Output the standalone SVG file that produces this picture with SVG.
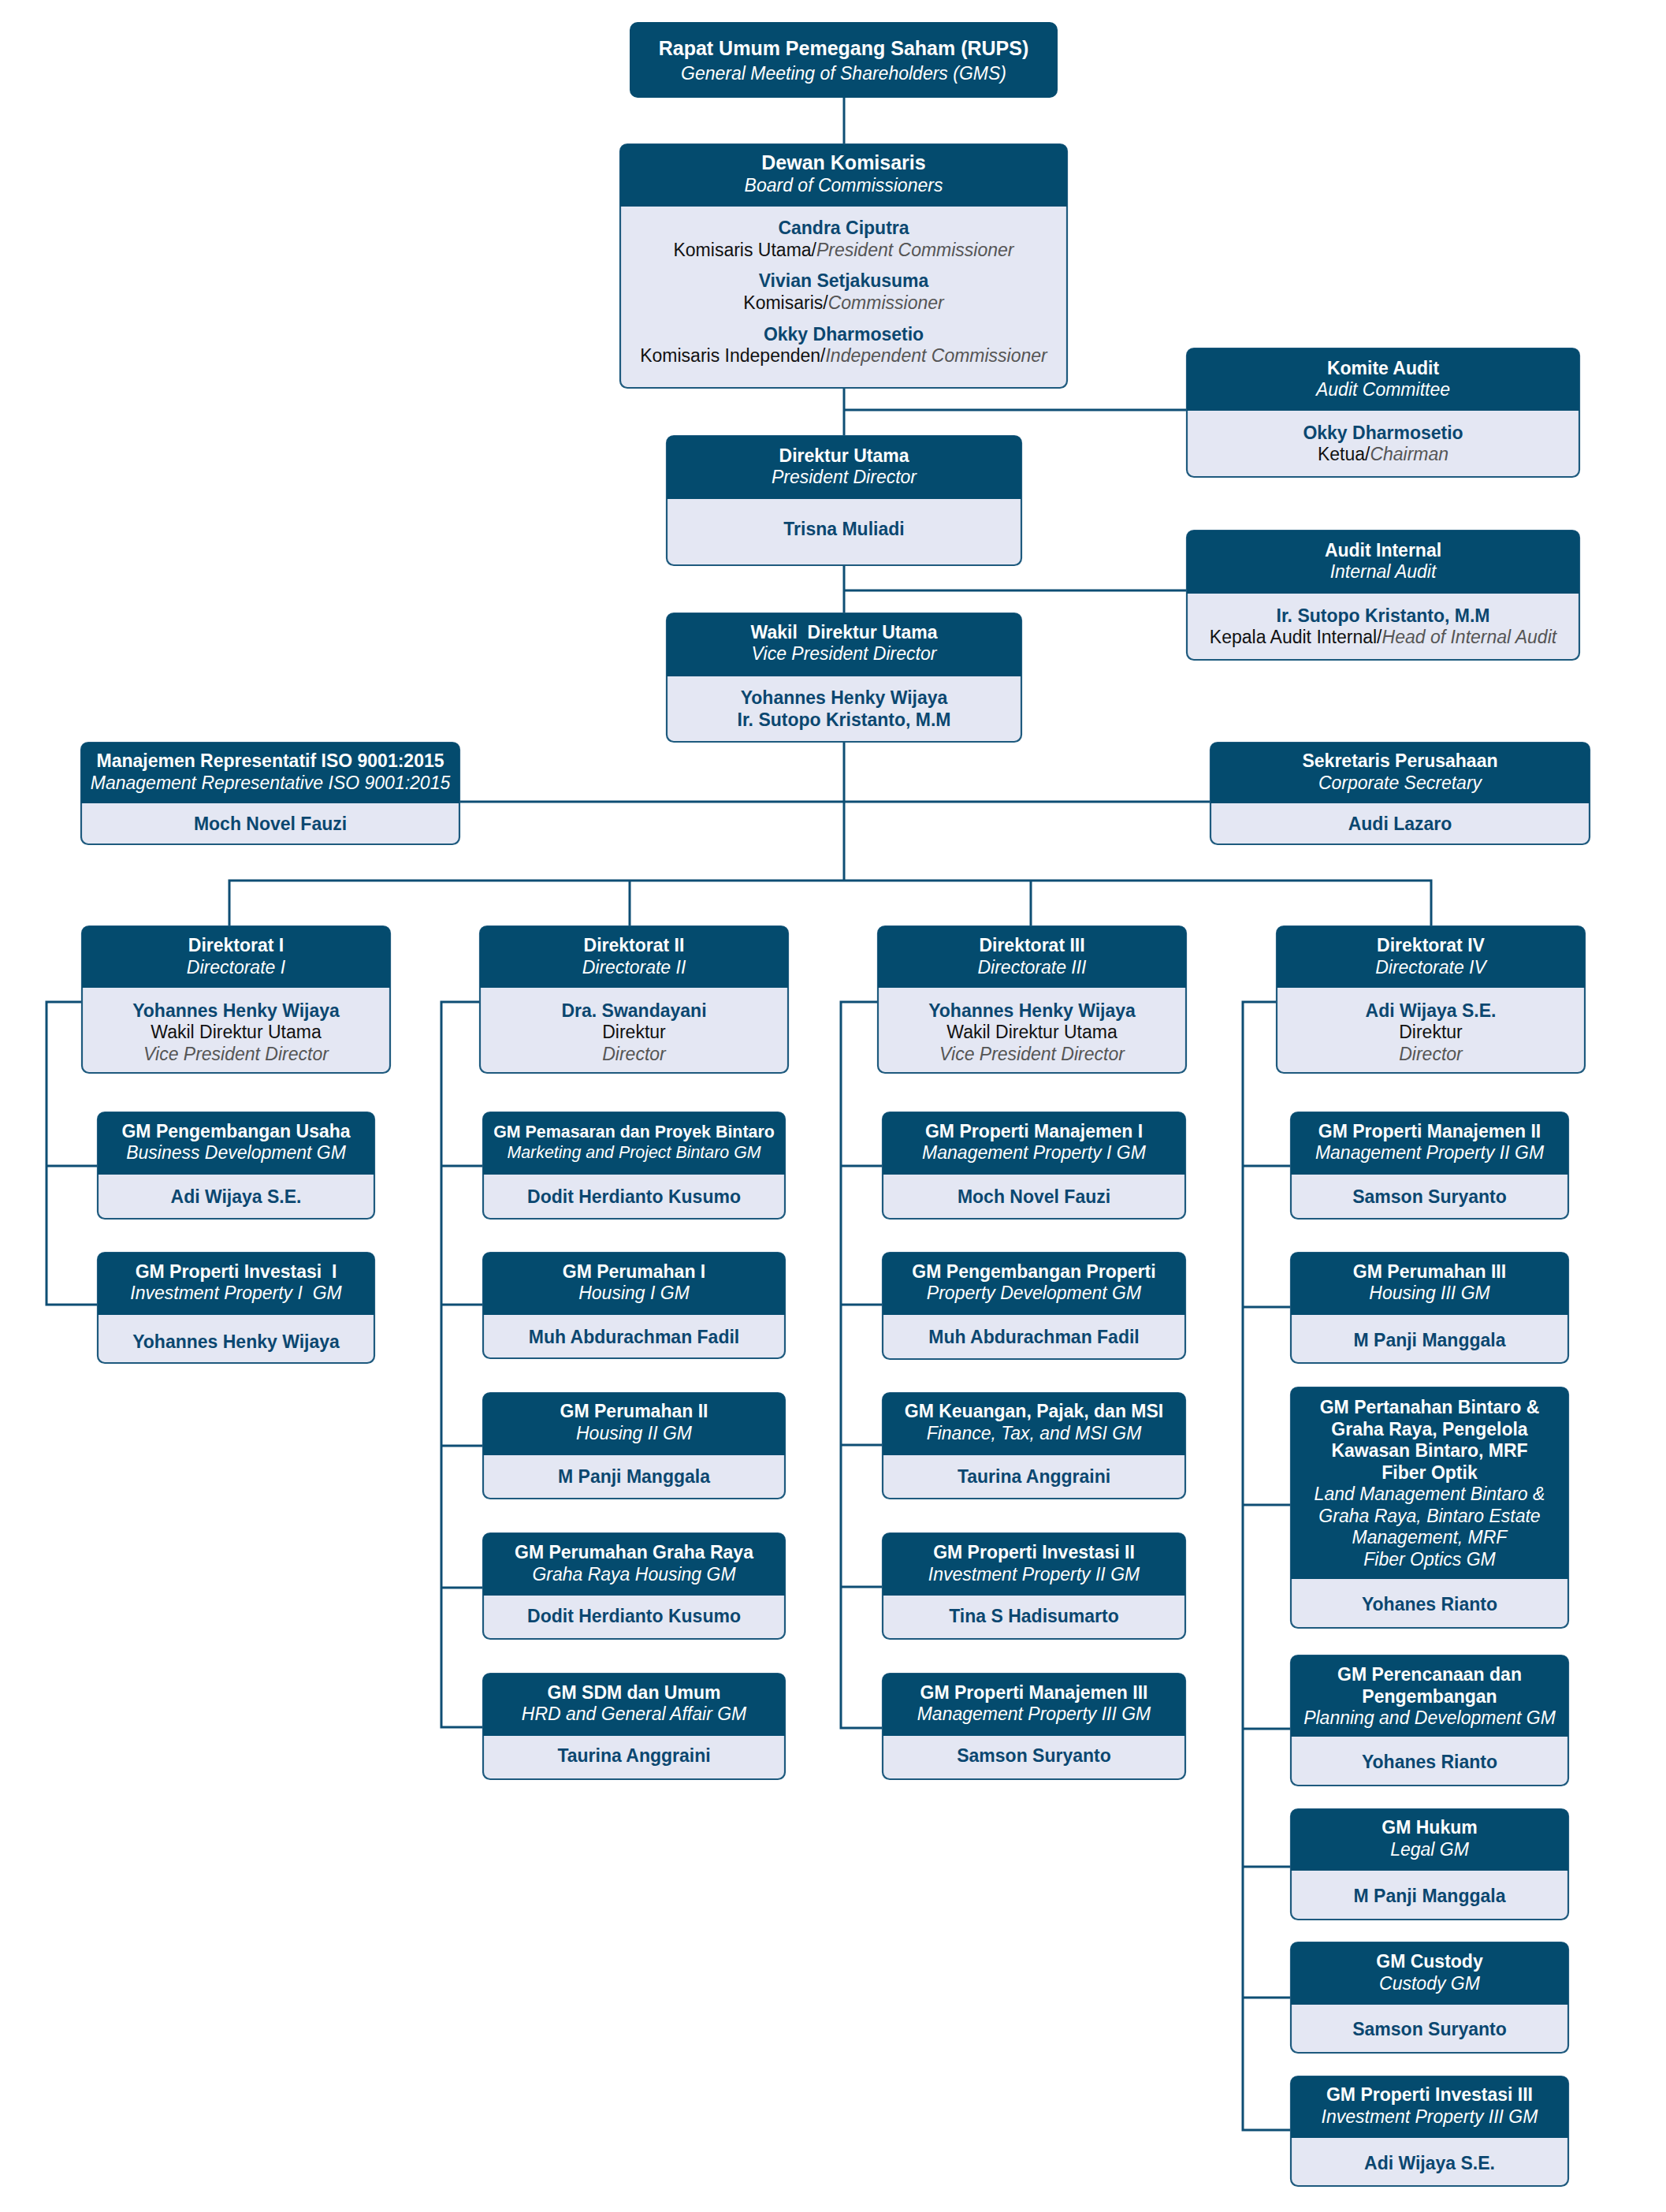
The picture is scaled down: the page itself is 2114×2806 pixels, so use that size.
<svg xmlns="http://www.w3.org/2000/svg" width="2114" height="2806" viewBox="0 0 2114 2806">
<style>
.bg{fill:#ffffff}
.bx{fill:#E4E7F3;stroke:#1E5A7E;stroke-width:2.2}
.hd{fill:#044B6E}
.cn{fill:none;stroke:#0E4E74;stroke-width:3}
text{font-family:"Liberation Sans",Arial,sans-serif;text-anchor:middle;font-size:23px}
.tb{font-weight:bold;fill:#ffffff}
.ti{font-style:italic;fill:#ffffff}
.big{font-size:25px}
.sm{font-size:21.4px}
.nm{font-weight:bold;fill:#0B4770}
.rl{fill:#111111}
.ri{font-style:italic;fill:#555555}
</style>
<rect class="bg" x="0" y="0" width="2114" height="2806"/>

<g id="connectors">
<path class="cn" d="M1071,124V183"/>
<path class="cn" d="M1071,492V553"/>
<path class="cn" d="M1071,520H1506"/>
<path class="cn" d="M1071,717V778"/>
<path class="cn" d="M1071,749H1506"/>
<path class="cn" d="M1071,941V1117"/>
<path class="cn" d="M583,1017H1536"/>
<path class="cn" d="M291,1175V1117H1816V1175"/>
<path class="cn" d="M799,1117V1175"/>
<path class="cn" d="M1308,1117V1175"/>
<path class="cn" d="M104,1271H59V1655H124"/>
<path class="cn" d="M59,1479H124"/>
<path class="cn" d="M609,1271H560V2191H613"/>
<path class="cn" d="M560,1479H613M560,1655H613M560,1834H613M560,2014H613"/>
<path class="cn" d="M1114,1271H1067V2192H1120"/>
<path class="cn" d="M1067,1479H1120M1067,1655H1120M1067,1833H1120M1067,2013H1120"/>
<path class="cn" d="M1620,1271H1577V2702H1638"/>
<path class="cn" d="M1577,1479H1638M1577,1658H1638M1577,1909H1638M1577,2193H1638M1577,2368H1638M1577,2534H1638"/>
</g>

<g id="rups">
<rect class="hd" x="799" y="28" width="543" height="96" rx="10"/>
<text class="tb big" x="1070.5" y="70">Rapat Umum Pemegang Saham (RUPS)</text>
<text class="ti" x="1070.5" y="101">General Meeting of Shareholders (GMS)</text>
</g>

<g id="dewan-komisaris">
<rect class="bx" x="787" y="183" width="567" height="309" rx="9"/>
<path class="hd" d="M787,262V192Q787,183 796,183H1345Q1354,183 1354,192V262Z"/>
<text class="tb big" x="1070.5" y="215">Dewan Komisaris</text>
<text class="ti" x="1070.5" y="243">Board of Commissioners</text>
<text class="nm" x="1070.5" y="297">Candra Ciputra</text>
<text class="rl" x="1070.5" y="325">Komisaris Utama/<tspan class="ri">President Commissioner</tspan></text>
<text class="nm" x="1070.5" y="364">Vivian Setjakusuma</text>
<text class="rl" x="1070.5" y="392">Komisaris/<tspan class="ri">Commissioner</tspan></text>
<text class="nm" x="1070.5" y="432">Okky Dharmosetio</text>
<text class="rl" x="1070.5" y="459">Komisaris Independen/<tspan class="ri">Independent Commissioner</tspan></text>
</g>

<g id="komite-audit">
<rect class="bx" x="1506" y="442" width="498" height="163" rx="9"/>
<path class="hd" d="M1506,521V451Q1506,442 1515,442H1995Q2004,442 2004,451V521Z"/>
<text class="tb" x="1755" y="475">Komite Audit</text>
<text class="ti" x="1755" y="502">Audit Committee</text>
<text class="nm" x="1755" y="557">Okky Dharmosetio</text>
<text class="rl" x="1755" y="584">Ketua/<tspan class="ri">Chairman</tspan></text>
</g>

<g id="direktur-utama">
<rect class="bx" x="846" y="553" width="450" height="164" rx="9"/>
<path class="hd" d="M846,633V562Q846,553 855,553H1287Q1296,553 1296,562V633Z"/>
<text class="tb" x="1071" y="586">Direktur Utama</text>
<text class="ti" x="1071" y="613">President Director</text>
<text class="nm" x="1071" y="679">Trisna Muliadi</text>
</g>

<g id="audit-internal">
<rect class="bx" x="1506" y="673" width="498" height="164" rx="9"/>
<path class="hd" d="M1506,753V682Q1506,673 1515,673H1995Q2004,673 2004,682V753Z"/>
<text class="tb" x="1755" y="706">Audit Internal</text>
<text class="ti" x="1755" y="733">Internal Audit</text>
<text class="nm" x="1755" y="789">Ir. Sutopo Kristanto, M.M</text>
<text class="rl" x="1755" y="816">Kepala Audit Internal/<tspan class="ri">Head of Internal Audit</tspan></text>
</g>

<g id="wakil-direktur-utama">
<rect class="bx" x="846" y="778" width="450" height="163" rx="9"/>
<path class="hd" d="M846,858V787Q846,778 855,778H1287Q1296,778 1296,787V858Z"/>
<text class="tb" x="1071" y="810">Wakil &#160;Direktur Utama</text>
<text class="ti" x="1071" y="837">Vice President Director</text>
<text class="nm" x="1071" y="893">Yohannes Henky Wijaya</text>
<text class="nm" x="1071" y="921">Ir. Sutopo Kristanto, M.M</text>
</g>

<g id="manajemen-representatif">
<rect class="bx" x="103" y="942" width="480" height="129" rx="9"/>
<path class="hd" d="M103,1019V951Q103,942 112,942H574Q583,942 583,951V1019Z"/>
<text class="tb" x="343" y="973">Manajemen Representatif ISO 9001:2015</text>
<text class="ti" x="343" y="1001">Management Representative ISO 9001:2015</text>
<text class="nm" x="343" y="1053">Moch Novel Fauzi</text>
</g>

<g id="sekretaris-perusahaan">
<rect class="bx" x="1536" y="942" width="481" height="129" rx="9"/>
<path class="hd" d="M1536,1019V951Q1536,942 1545,942H2008Q2017,942 2017,951V1019Z"/>
<text class="tb" x="1776.5" y="973">Sekretaris Perusahaan</text>
<text class="ti" x="1776.5" y="1001">Corporate Secretary</text>
<text class="nm" x="1776.5" y="1053">Audi Lazaro</text>
</g>

<g id="direktorat-1">
<rect class="bx" x="104" y="1175" width="391" height="186" rx="9"/>
<path class="hd" d="M104,1253V1184Q104,1175 113,1175H486Q495,1175 495,1184V1253Z"/>
<text class="tb" x="299.5" y="1207">Direktorat I</text>
<text class="ti" x="299.5" y="1235">Directorate I</text>
<text class="nm" x="299.5" y="1290">Yohannes Henky Wijaya</text>
<text class="rl" x="299.5" y="1317">Wakil Direktur Utama</text>
<text class="ri" x="299.5" y="1345">Vice President Director</text>
</g>

<g id="direktorat-2">
<rect class="bx" x="609" y="1175" width="391" height="186" rx="9"/>
<path class="hd" d="M609,1253V1184Q609,1175 618,1175H991Q1000,1175 1000,1184V1253Z"/>
<text class="tb" x="804.5" y="1207">Direktorat II</text>
<text class="ti" x="804.5" y="1235">Directorate II</text>
<text class="nm" x="804.5" y="1290">Dra. Swandayani</text>
<text class="rl" x="804.5" y="1317">Direktur</text>
<text class="ri" x="804.5" y="1345">Director</text>
</g>

<g id="direktorat-3">
<rect class="bx" x="1114" y="1175" width="391" height="186" rx="9"/>
<path class="hd" d="M1114,1253V1184Q1114,1175 1123,1175H1496Q1505,1175 1505,1184V1253Z"/>
<text class="tb" x="1309.5" y="1207">Direktorat III</text>
<text class="ti" x="1309.5" y="1235">Directorate III</text>
<text class="nm" x="1309.5" y="1290">Yohannes Henky Wijaya</text>
<text class="rl" x="1309.5" y="1317">Wakil Direktur Utama</text>
<text class="ri" x="1309.5" y="1345">Vice President Director</text>
</g>

<g id="direktorat-4">
<rect class="bx" x="1620" y="1175" width="391" height="186" rx="9"/>
<path class="hd" d="M1620,1253V1184Q1620,1175 1629,1175H2002Q2011,1175 2011,1184V1253Z"/>
<text class="tb" x="1815.5" y="1207">Direktorat IV</text>
<text class="ti" x="1815.5" y="1235">Directorate IV</text>
<text class="nm" x="1815.5" y="1290">Adi Wijaya S.E.</text>
<text class="rl" x="1815.5" y="1317">Direktur</text>
<text class="ri" x="1815.5" y="1345">Director</text>
</g>

<g id="gm-pengembangan-usaha">
<rect class="bx" x="124" y="1411" width="351" height="135" rx="9"/>
<path class="hd" d="M124,1490V1420Q124,1411 133,1411H466Q475,1411 475,1420V1490Z"/>
<text class="tb" x="299.5" y="1443">GM Pengembangan Usaha</text>
<text class="ti" x="299.5" y="1470">Business Development GM</text>
<text class="nm" x="299.5" y="1526">Adi Wijaya S.E.</text>
</g>

<g id="gm-properti-investasi-1">
<rect class="bx" x="124" y="1589" width="351" height="140" rx="9"/>
<path class="hd" d="M124,1668V1598Q124,1589 133,1589H466Q475,1589 475,1598V1668Z"/>
<text class="tb" x="299.5" y="1621">GM Properti Investasi &#160;I</text>
<text class="ti" x="299.5" y="1648">Investment Property I &#160;GM</text>
<text class="nm" x="299.5" y="1710">Yohannes Henky Wijaya</text>
</g>

<g id="gm-pemasaran-bintaro">
<rect class="bx" x="613" y="1411" width="383" height="135" rx="9"/>
<path class="hd" d="M613,1490V1420Q613,1411 622,1411H987Q996,1411 996,1420V1490Z"/>
<text class="tb sm" x="804.5" y="1443">GM Pemasaran dan Proyek Bintaro</text>
<text class="ti sm" x="804.5" y="1469">Marketing and Project Bintaro GM</text>
<text class="nm" x="804.5" y="1526">Dodit Herdianto Kusumo</text>
</g>

<g id="gm-perumahan-1">
<rect class="bx" x="613" y="1589" width="383" height="134" rx="9"/>
<path class="hd" d="M613,1668V1598Q613,1589 622,1589H987Q996,1589 996,1598V1668Z"/>
<text class="tb" x="804.5" y="1621">GM Perumahan I</text>
<text class="ti" x="804.5" y="1648">Housing I GM</text>
<text class="nm" x="804.5" y="1704">Muh Abdurachman Fadil</text>
</g>

<g id="gm-perumahan-2">
<rect class="bx" x="613" y="1767" width="383" height="134" rx="9"/>
<path class="hd" d="M613,1846V1776Q613,1767 622,1767H987Q996,1767 996,1776V1846Z"/>
<text class="tb" x="804.5" y="1798">GM Perumahan II</text>
<text class="ti" x="804.5" y="1826">Housing II GM</text>
<text class="nm" x="804.5" y="1881">M Panji Manggala</text>
</g>

<g id="gm-perumahan-graha-raya">
<rect class="bx" x="613" y="1945" width="383" height="134" rx="9"/>
<path class="hd" d="M613,2024V1954Q613,1945 622,1945H987Q996,1945 996,1954V2024Z"/>
<text class="tb" x="804.5" y="1977">GM Perumahan Graha Raya</text>
<text class="ti" x="804.5" y="2005">Graha Raya Housing GM</text>
<text class="nm" x="804.5" y="2058">Dodit Herdianto Kusumo</text>
</g>

<g id="gm-sdm-umum">
<rect class="bx" x="613" y="2123" width="383" height="134" rx="9"/>
<path class="hd" d="M613,2202V2132Q613,2123 622,2123H987Q996,2123 996,2132V2202Z"/>
<text class="tb" x="804.5" y="2155">GM SDM dan Umum</text>
<text class="ti" x="804.5" y="2182">HRD and General Affair GM</text>
<text class="nm" x="804.5" y="2235">Taurina Anggraini</text>
</g>

<g id="gm-properti-manajemen-1">
<rect class="bx" x="1120" y="1411" width="384" height="135" rx="9"/>
<path class="hd" d="M1120,1490V1420Q1120,1411 1129,1411H1495Q1504,1411 1504,1420V1490Z"/>
<text class="tb" x="1312" y="1443">GM Properti Manajemen I</text>
<text class="ti" x="1312" y="1470">Management Property I GM</text>
<text class="nm" x="1312" y="1526">Moch Novel Fauzi</text>
</g>

<g id="gm-pengembangan-properti">
<rect class="bx" x="1120" y="1589" width="384" height="135" rx="9"/>
<path class="hd" d="M1120,1668V1598Q1120,1589 1129,1589H1495Q1504,1589 1504,1598V1668Z"/>
<text class="tb" x="1312" y="1621">GM Pengembangan Properti</text>
<text class="ti" x="1312" y="1648">Property Development GM</text>
<text class="nm" x="1312" y="1704">Muh Abdurachman Fadil</text>
</g>

<g id="gm-keuangan">
<rect class="bx" x="1120" y="1767" width="384" height="134" rx="9"/>
<path class="hd" d="M1120,1846V1776Q1120,1767 1129,1767H1495Q1504,1767 1504,1776V1846Z"/>
<text class="tb" x="1312" y="1798">GM Keuangan, Pajak, dan MSI</text>
<text class="ti" x="1312" y="1826">Finance, Tax, and MSI GM</text>
<text class="nm" x="1312" y="1881">Taurina Anggraini</text>
</g>

<g id="gm-properti-investasi-2">
<rect class="bx" x="1120" y="1945" width="384" height="134" rx="9"/>
<path class="hd" d="M1120,2024V1954Q1120,1945 1129,1945H1495Q1504,1945 1504,1954V2024Z"/>
<text class="tb" x="1312" y="1977">GM Properti Investasi II</text>
<text class="ti" x="1312" y="2005">Investment Property II GM</text>
<text class="nm" x="1312" y="2058">Tina S Hadisumarto</text>
</g>

<g id="gm-properti-manajemen-3">
<rect class="bx" x="1120" y="2123" width="384" height="134" rx="9"/>
<path class="hd" d="M1120,2202V2132Q1120,2123 1129,2123H1495Q1504,2123 1504,2132V2202Z"/>
<text class="tb" x="1312" y="2155">GM Properti Manajemen III</text>
<text class="ti" x="1312" y="2182">Management Property III GM</text>
<text class="nm" x="1312" y="2235">Samson Suryanto</text>
</g>

<g id="gm-properti-manajemen-2">
<rect class="bx" x="1638" y="1411" width="352" height="135" rx="9"/>
<path class="hd" d="M1638,1490V1420Q1638,1411 1647,1411H1981Q1990,1411 1990,1420V1490Z"/>
<text class="tb" x="1814" y="1443">GM Properti Manajemen II</text>
<text class="ti" x="1814" y="1470">Management Property II GM</text>
<text class="nm" x="1814" y="1526">Samson Suryanto</text>
</g>

<g id="gm-perumahan-3">
<rect class="bx" x="1638" y="1589" width="352" height="140" rx="9"/>
<path class="hd" d="M1638,1668V1598Q1638,1589 1647,1589H1981Q1990,1589 1990,1598V1668Z"/>
<text class="tb" x="1814" y="1621">GM Perumahan III</text>
<text class="ti" x="1814" y="1648">Housing III GM</text>
<text class="nm" x="1814" y="1708">M Panji Manggala</text>
</g>

<g id="gm-pertanahan">
<rect class="bx" x="1638" y="1760" width="352" height="305" rx="9"/>
<path class="hd" d="M1638,2003V1769Q1638,1760 1647,1760H1981Q1990,1760 1990,1769V2003Z"/>
<text class="tb" x="1814" y="1793">GM Pertanahan Bintaro &amp;</text>
<text class="tb" x="1814" y="1821">Graha Raya, Pengelola</text>
<text class="tb" x="1814" y="1848">Kawasan Bintaro, MRF</text>
<text class="tb" x="1814" y="1876">Fiber Optik</text>
<text class="ti" x="1814" y="1903">Land Management Bintaro &amp;</text>
<text class="ti" x="1814" y="1931">Graha Raya, Bintaro Estate</text>
<text class="ti" x="1814" y="1958">Management, MRF</text>
<text class="ti" x="1814" y="1986">Fiber Optics GM</text>
<text class="nm" x="1814" y="2043">Yohanes Rianto</text>
</g>

<g id="gm-perencanaan">
<rect class="bx" x="1638" y="2100" width="352" height="165" rx="9"/>
<path class="hd" d="M1638,2203V2109Q1638,2100 1647,2100H1981Q1990,2100 1990,2109V2203Z"/>
<text class="tb" x="1814" y="2132">GM Perencanaan dan</text>
<text class="tb" x="1814" y="2160">Pengembangan</text>
<text class="ti" x="1814" y="2187">Planning and Development GM</text>
<text class="nm" x="1814" y="2243">Yohanes Rianto</text>
</g>

<g id="gm-hukum">
<rect class="bx" x="1638" y="2295" width="352" height="140" rx="9"/>
<path class="hd" d="M1638,2373V2304Q1638,2295 1647,2295H1981Q1990,2295 1990,2304V2373Z"/>
<text class="tb" x="1814" y="2326">GM Hukum</text>
<text class="ti" x="1814" y="2354">Legal GM</text>
<text class="nm" x="1814" y="2413">M Panji Manggala</text>
</g>

<g id="gm-custody">
<rect class="bx" x="1638" y="2464" width="352" height="140" rx="9"/>
<path class="hd" d="M1638,2543V2473Q1638,2464 1647,2464H1981Q1990,2464 1990,2473V2543Z"/>
<text class="tb" x="1814" y="2496">GM Custody</text>
<text class="ti" x="1814" y="2524">Custody GM</text>
<text class="nm" x="1814" y="2582">Samson Suryanto</text>
</g>

<g id="gm-properti-investasi-3">
<rect class="bx" x="1638" y="2634" width="352" height="139" rx="9"/>
<path class="hd" d="M1638,2712V2643Q1638,2634 1647,2634H1981Q1990,2634 1990,2643V2712Z"/>
<text class="tb" x="1814" y="2665">GM Properti Investasi III</text>
<text class="ti" x="1814" y="2693">Investment Property III GM</text>
<text class="nm" x="1814" y="2752">Adi Wijaya S.E.</text>
</g>
</svg>
